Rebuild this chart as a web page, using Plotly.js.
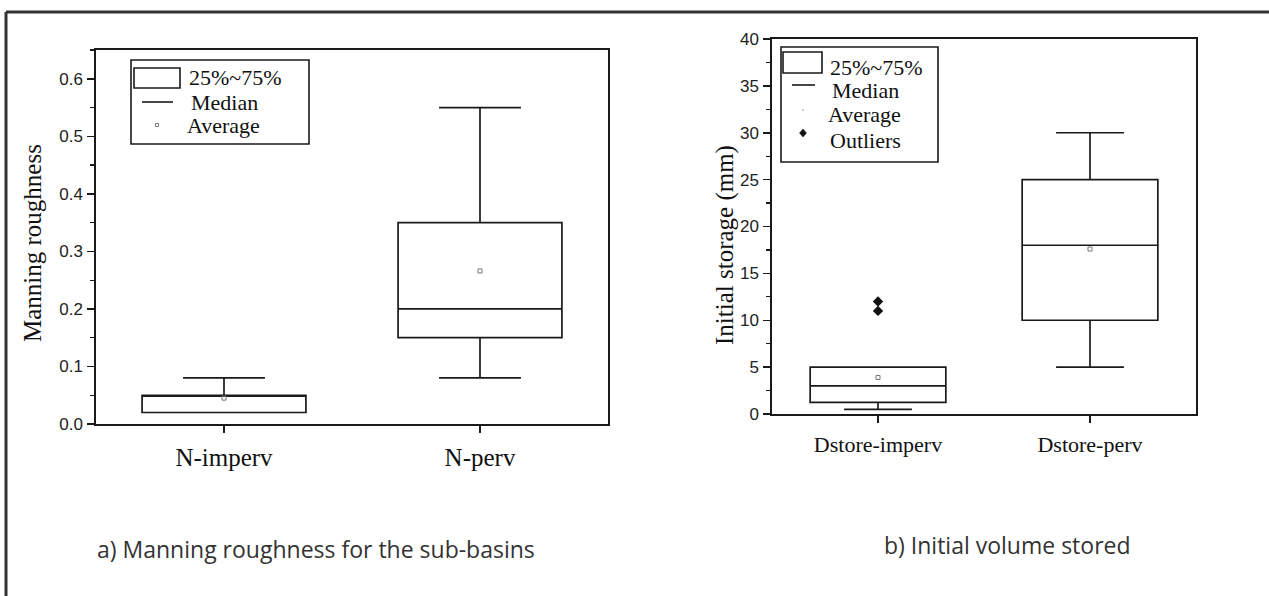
<!DOCTYPE html>
<html>
<head>
<meta charset="utf-8">
<script src="https://cdn.plot.ly/plotly-3.0.1.min.js"></script>
<style>html,body{margin:0;padding:0;background:#fff;overflow:hidden;}#chart{width:1269px;height:596px;}</style>
</head>
<body>
<div id="chart"></div>
<script>
// ---- Data (a) Manning roughness ----
const manningCats = ["N-imperv", "N-perv"];
const manningQ1 = [0.02, 0.15];
const manningMedian = [0.05, 0.20];
const manningQ3 = [0.05, 0.35];
const manningLow = [0.02, 0.08];
const manningHigh = [0.08, 0.55];
const manningMean = [0.045, 0.266];

// ---- Data (b) Initial storage ----
const storeCats = ["Dstore-imperv", "Dstore-perv"];
const storeQ1 = [1.25, 10];
const storeMedian = [3, 18];
const storeQ3 = [5, 25];
const storeLow = [0.5, 5];
const storeHigh = [5, 30];
const storeMean = [3.9, 17.6];
const outlierCats = ["Dstore-imperv", "Dstore-imperv"];
const outlierValues = [12, 11];

const legendLabelsA = ["25%~75%", "Median", "Average"];
const legendLabelsB = ["25%~75%", "Median", "Average", "Outliers"];
const captions = ["a) Manning roughness for the sub-basins", "b) Initial volume stored"];
const yTitles = ["Manning roughness", "Initial storage (mm)"];

const W = 1269, H = 596;
const X = px => px / W;
const Y = py => 1 - py / H;
const ink = "#1a1a1a";
const serif = "Liberation Serif, Times New Roman, serif";
const sans = "Liberation Sans, Arial, sans-serif";

function boxTrace(cats, q1, med, q3, lo, hi, xa, ya) {
  return {
    type: "box", x: cats, q1: q1, median: med, q3: q3,
    lowerfence: lo, upperfence: hi,
    boxpoints: false, width: 0.64, whiskerwidth: 0.5,
    fillcolor: "rgba(255,255,255,0)",
    line: {color: ink, width: 1.7},
    xaxis: xa, yaxis: ya, showlegend: false, hoverinfo: "skip"
  };
}

const traces = [
  boxTrace(manningCats, manningQ1, manningMedian, manningQ3, manningLow, manningHigh, "x", "y"),
  {type: "scatter", mode: "markers", x: manningCats, y: manningMean, xaxis: "x", yaxis: "y",
   marker: {symbol: "square-open", size: 4, color: "#777", line: {width: 1}}, showlegend: false, hoverinfo: "skip"},
  boxTrace(storeCats, storeQ1, storeMedian, storeQ3, storeLow, storeHigh, "x2", "y2"),
  {type: "scatter", mode: "markers", x: storeCats, y: storeMean, xaxis: "x2", yaxis: "y2",
   marker: {symbol: "square-open", size: 4, color: "#777", line: {width: 1}}, showlegend: false, hoverinfo: "skip"},
  {type: "scatter", mode: "markers", x: outlierCats, y: outlierValues, xaxis: "x2", yaxis: "y2",
   marker: {symbol: "diamond", size: 8, color: "#111"}, showlegend: false, hoverinfo: "skip"}
];

function xaxisDef(domain, cats, fs) {
  return {
    domain: domain, type: "category", categoryarray: cats, range: [-0.5, 1.5],
    showline: true, linecolor: ink, linewidth: 1.7, mirror: true,
    ticks: "outside", ticklen: 7, tickwidth: 1.5, tickcolor: ink,
    showgrid: false, zeroline: false, fixedrange: true,
    tickfont: {family: serif, size: fs, color: "#111"}, ticklabelstandoff: 3
  };
}
function yaxisDef(domain, range, dtick, minor, fmt, anchor) {
  return {
    domain: domain, range: range, dtick: dtick, tick0: 0, tickformat: fmt,
    showline: true, linecolor: ink, linewidth: 1.7, mirror: true,
    ticks: "outside", ticklen: 7, tickwidth: 1.5, tickcolor: ink,
    minor: {ticks: "outside", ticklen: 4, dtick: minor, tickcolor: ink, tickwidth: 1.2, showgrid: false},
    showgrid: false, zeroline: false, fixedrange: true, anchor: anchor,
    tickfont: {family: sans, size: 17, color: "#222"}, ticklabelstandoff: 1
  };
}

const shapes = [
  // outer frame (top and left)
  {type: "line", xref: "paper", yref: "paper", x0: X(6), x1: X(1269), y0: Y(12), y1: Y(12), line: {color: "#333", width: 3}},
  {type: "line", xref: "paper", yref: "paper", x0: X(6), x1: X(6), y0: Y(12), y1: 0, line: {color: "#333", width: 3}},
  // legend A
  {type: "rect", xref: "paper", yref: "paper", x0: X(131), x1: X(309), y0: Y(60), y1: Y(144), line: {color: ink, width: 1.6}, fillcolor: "white"},
  {type: "rect", xref: "paper", yref: "paper", x0: X(134), x1: X(180), y0: Y(68), y1: Y(88), line: {color: ink, width: 1.6}},
  {type: "line", xref: "paper", yref: "paper", x0: X(142), x1: X(173), y0: Y(102), y1: Y(102), line: {color: ink, width: 1.6}},
  {type: "rect", xref: "paper", yref: "paper", x0: X(155.5), x1: X(158.5), y0: Y(123.5), y1: Y(126.5), line: {color: "#777", width: 1}},
  // legend B
  {type: "rect", xref: "paper", yref: "paper", x0: X(781), x1: X(938), y0: Y(47), y1: Y(162), line: {color: ink, width: 1.6}, fillcolor: "white"},
  {type: "rect", xref: "paper", yref: "paper", x0: X(783), x1: X(822), y0: Y(52), y1: Y(73), line: {color: ink, width: 1.6}},
  {type: "line", xref: "paper", yref: "paper", x0: X(792), x1: X(815), y0: Y(85), y1: Y(85), line: {color: ink, width: 1.6}},
  {type: "line", xref: "paper", yref: "paper", x0: X(802), x1: X(804), y0: Y(110), y1: Y(110), line: {color: "#999", width: 1}},
  {type: "path", xref: "paper", yref: "paper",
   path: `M ${X(803)} ${Y(129)} L ${X(806.5)} ${Y(133)} L ${X(803)} ${Y(137)} L ${X(799.5)} ${Y(133)} Z`,
   fillcolor: "#111", line: {color: "#111", width: 0.5}}
];

function legText(txt, x, y, size) {
  return {text: txt, xref: "paper", yref: "paper", x: X(x), y: Y(y), xanchor: "left", yanchor: "middle",
          showarrow: false, font: {family: serif, size: size, color: "#111"}};
}

const annotations = [
  legText(legendLabelsA[0], 187, 78, 22),
  legText(legendLabelsA[1], 189, 102, 22),
  legText(legendLabelsA[2], 185, 126, 22),
  legText(legendLabelsB[0], 828, 67, 22),
  legText(legendLabelsB[1], 830, 90, 22),
  legText(legendLabelsB[2], 826, 114, 22),
  legText(legendLabelsB[3], 828, 140, 22),
  {text: yTitles[0], xref: "paper", yref: "paper", x: X(33), y: Y(243), textangle: -90, showarrow: false,
   xanchor: "center", yanchor: "middle", font: {family: serif, size: 25, color: "#111"}},
  {text: yTitles[1], xref: "paper", yref: "paper", x: X(725), y: Y(245), textangle: -90, showarrow: false,
   xanchor: "center", yanchor: "middle", font: {family: serif, size: 25, color: "#111"}},
  {text: captions[0], xref: "paper", yref: "paper", x: X(95), y: Y(549), xanchor: "left", yanchor: "middle",
   showarrow: false, font: {family: "Open Sans, sans-serif", size: 23, color: "#333"}},
  {text: captions[1], xref: "paper", yref: "paper", x: X(882), y: Y(545), xanchor: "left", yanchor: "middle",
   showarrow: false, font: {family: "Open Sans, sans-serif", size: 23, color: "#333"}}
];

const layout = {
  width: W, height: H,
  margin: {l: 0, r: 0, t: 0, b: 0},
  paper_bgcolor: "white", plot_bgcolor: "white",
  showlegend: false,
  xaxis: Object.assign(xaxisDef([X(96), X(608)], manningCats, 25), {anchor: "y"}),
  yaxis: yaxisDef([Y(424), Y(50)], [0, 0.65], 0.1, 0.05, ".1f", "x"),
  xaxis2: Object.assign(xaxisDef([X(772), X(1196)], storeCats, 22), {anchor: "y2"}),
  yaxis2: yaxisDef([Y(414), Y(39)], [0, 40], 5, 2.5, "d", "x2"),
  shapes: shapes,
  annotations: annotations
};

Plotly.newPlot("chart", traces, layout, {staticPlot: true, displayModeBar: false});
</script>
</body>
</html>
